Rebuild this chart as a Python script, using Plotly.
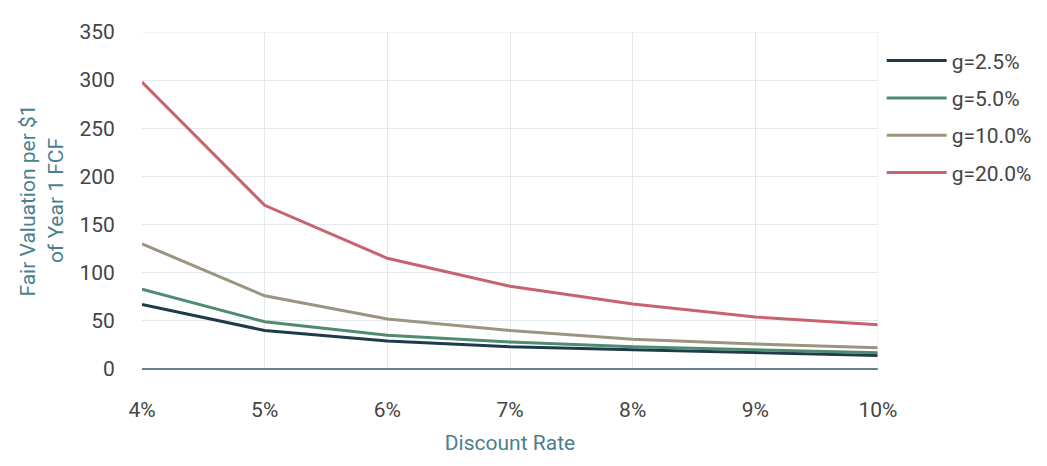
import plotly.graph_objects as go

rates = [4, 5, 6, 7, 8, 9, 10]
x_labels = ["4%", "5%", "6%", "7%", "8%", "9%", "10%"]
g25 = [67, 40, 29, 23, 20, 17, 14]
g50 = [83, 49, 35, 28, 23, 20, 17]
g100 = [130, 76, 52, 40, 31, 26, 22]
g200 = [298, 170, 115, 86, 67.5, 54, 46]

series = [
    ("g=2.5%", g25, "#1e3b4c"),
    ("g=5.0%", g50, "#4f8b70"),
    ("g=10.0%", g100, "#9b947f"),
    ("g=20.0%", g200, "#c8626f"),
]

fig = go.Figure()
for name, vals, color in series:
    fig.add_trace(go.Scatter(x=rates, y=vals, mode="lines", name=name,
                             legendgroup=name,
                             line=dict(color=color, width=3)))

title_color = "#4a7f8e"
tick_color = "#444444"
grid = "#e3e9ec"
fig.update_layout(
    width=1047, height=466,
    margin=dict(l=134, r=177, t=24, b=105),
    paper_bgcolor="white", plot_bgcolor="white",
    font=dict(family="Roboto", size=21, color=tick_color),
    showlegend=True,
    legend=dict(x=1.005, y=0.975, xanchor="left", yanchor="top",
                font=dict(size=21, color=tick_color), tracegroupgap=7,
                itemwidth=60),
    xaxis=dict(
        tickmode="array", tickvals=rates, ticktext=x_labels,
        range=[4, 10], showgrid=True, gridcolor=grid, gridwidth=1,
        zeroline=False, showline=False, ticks="outside", ticklen=22,
        tickcolor="rgba(0,0,0,0)",
        tickfont=dict(size=21, color=tick_color),
        title=dict(text="Discount Rate", font=dict(size=21, color=title_color), standoff=14),
    ),
    yaxis=dict(
        range=[0, 350], tickvals=[0, 50, 100, 150, 200, 250, 300, 350],
        showgrid=True, gridcolor=grid, gridwidth=1,
        zeroline=True, zerolinecolor="#6b7d88", zerolinewidth=2,
        showline=False, ticks="outside", ticklen=22, tickcolor="rgba(0,0,0,0)",
        tickfont=dict(size=21, color=tick_color),
        title=dict(text="Fair Valuation per $1<br>of Year 1 FCF",
                   font=dict(size=21, color=title_color), standoff=10),
    ),
)
fig.add_shape(type="line", xref="x", yref="paper", x0=10, x1=10, y0=0, y1=1,
              line=dict(color=grid, width=1))
fig.add_shape(type="line", xref="paper", yref="y", x0=0, x1=1, y0=350, y1=350,
              line=dict(color=grid, width=1))

fig.write_html("out.html")
